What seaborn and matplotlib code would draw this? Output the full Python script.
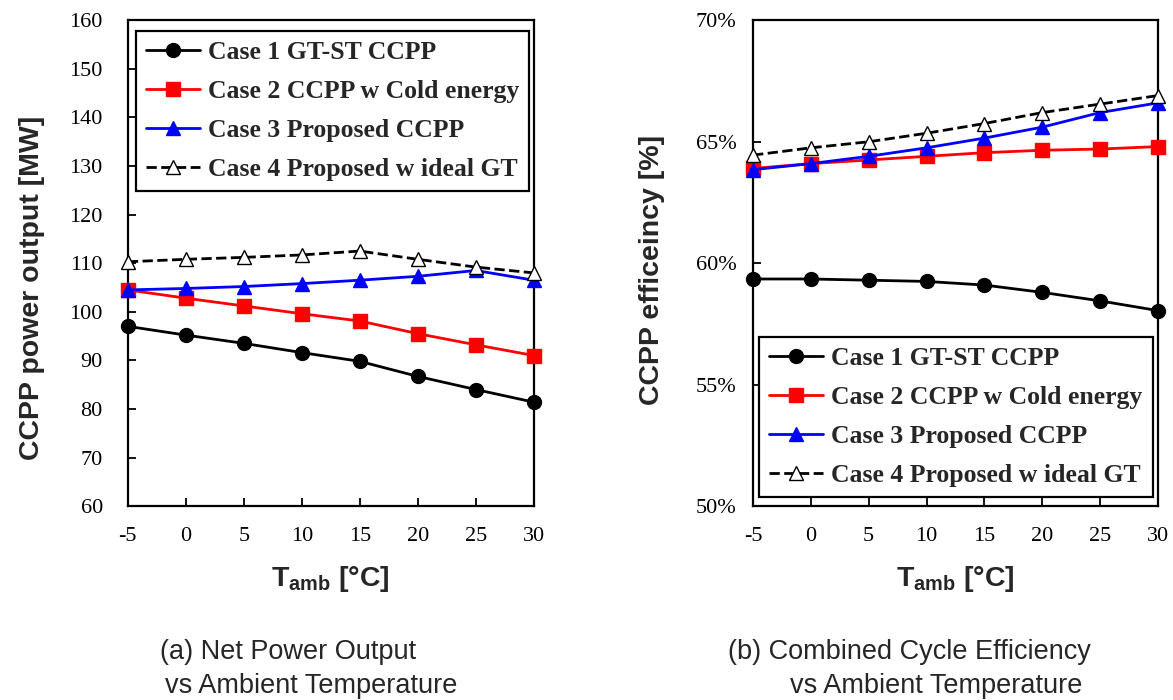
import matplotlib
matplotlib.use("Agg")
import matplotlib.pyplot as plt
import matplotlib.ticker as mticker
import seaborn as sns

# ─── data ────────────────────────────────────────────────────────────────────
temps = [-5, 0, 5, 10, 15, 20, 25, 30]
case_labels = ["Case 1 GT-ST CCPP", "Case 2 CCPP w Cold energy",
               "Case 3 Proposed CCPP", "Case 4 Proposed w ideal GT"]

power_case1 = [97.0, 95.2, 93.5, 91.6, 89.8, 86.7, 84.0, 81.4]
power_case2 = [104.5, 102.8, 101.2, 99.6, 98.1, 95.5, 93.2, 91.0]
power_case3 = [104.5, 104.8, 105.2, 105.8, 106.5, 107.3, 108.5, 106.5]
power_case4 = [110.3, 110.8, 111.2, 111.7, 112.5, 110.8, 109.2, 108.0]

eff_case1 = [59.35, 59.35, 59.3, 59.25, 59.1, 58.8, 58.45, 58.05]
eff_case2 = [63.9, 64.1, 64.25, 64.4, 64.55, 64.65, 64.7, 64.8]
eff_case3 = [63.85, 64.1, 64.4, 64.75, 65.15, 65.6, 66.2, 66.6]
eff_case4 = [64.45, 64.75, 65.0, 65.35, 65.75, 66.2, 66.55, 66.9]

# ─── style ───────────────────────────────────────────────────────────────────
sns.set_theme(style="ticks")
SERIF = ["Liberation Serif", "DejaVu Serif"]
SANS = ["Liberation Sans", "DejaVu Sans"]
plt.rcParams["font.family"] = SERIF
plt.rcParams["axes.unicode_minus"] = False
plt.rcParams["mathtext.fontset"] = "custom"
plt.rcParams["mathtext.rm"] = "Liberation Sans:bold"
plt.rcParams["mathtext.bf"] = "Liberation Sans:bold"

styles = [
    dict(color="black", marker="o", linestyle="-", markerfacecolor="black", markeredgecolor="black"),
    dict(color="#ff0000", marker="s", linestyle="-", markerfacecolor="#ff0000", markeredgecolor="#ff0000"),
    dict(color="#0000ff", marker="^", linestyle="-", markerfacecolor="#0000ff", markeredgecolor="#0000ff"),
    dict(color="black", marker="^", linestyle="--", markerfacecolor="white", markeredgecolor="black"),
]

fig = plt.figure(figsize=(11.73, 7.0), dpi=100)
ax1 = fig.add_axes([0.109, 0.277, 0.346, 0.694])
ax2 = fig.add_axes([0.642, 0.277, 0.345, 0.694])


def draw(ax, series, ypad):
    for vals, lab, st in zip(series, case_labels, styles):
        sns.lineplot(x=temps, y=vals, ax=ax, label=lab, markersize=10,
                     linewidth=2, markeredgewidth=1, clip_on=False, zorder=3, **st)
    ax.set_xlim(-5, 30)
    ax.set_xticks(temps)
    for sp in ax.spines.values():
        sp.set_linewidth(1.6)
        sp.set_color("black")
    ax.tick_params(direction="in", length=6, width=1.3, labelsize=16, colors="black")
    ax.tick_params(axis="x", pad=15)
    ax.tick_params(axis="y", pad=ypad)
    for t in ax.get_xticklabels() + ax.get_yticklabels():
        t.set_family(SERIF)
    ax.set_xlabel(r"$\mathbf{T_{amb}}$ [°C]", fontsize=20.5, fontweight="bold",
                  family=SANS, labelpad=13)


def add_legend(ax, loc, anchor):
    leg = ax.legend(loc=loc, bbox_to_anchor=anchor, fancybox=False,
                    edgecolor="black", framealpha=1, handlelength=2.1,
                    handletextpad=0.3, borderpad=0.4, labelspacing=0.62,
                    borderaxespad=0,
                    prop=dict(family=SERIF, weight="bold", size=18.5))
    leg.get_frame().set_linewidth(1.6)


# ── (a) net power ────────────────────────────────────────────────────────────
draw(ax1, [power_case1, power_case2, power_case3, power_case4], ypad=18)
ax1.set_ylim(60, 160)
ax1.set_yticks(range(60, 161, 10))
ax1.set_ylabel("CCPP power output [MW]", fontsize=20.5, fontweight="bold", family=SANS)
ax1.yaxis.set_label_coords(-0.204, 0.45)
add_legend(ax1, "upper left", (0.02, 0.979))

# ── (b) efficiency ───────────────────────────────────────────────────────────
draw(ax2, [eff_case1, eff_case2, eff_case3, eff_case4], ypad=12)
ax2.set_ylim(50, 70)
ax2.set_yticks(range(50, 71, 5))
ax2.yaxis.set_major_formatter(mticker.FuncFormatter(lambda v, p: f"{v:.0f}%"))
ax2.set_ylabel("CCPP efficeincy [%]", fontsize=20.5, fontweight="bold", family=SANS)
ax2.yaxis.set_label_coords(-0.217, 0.486)
add_legend(ax2, "lower left", (0.015, 0.0185))
for t in ax2.get_yticklabels():
    t.set_family(SERIF)

# ── captions ─────────────────────────────────────────────────────────────────
cap = dict(fontsize=19.5, family=SANS, va="center", ha="left")
fig.text(160 / 1173, 1 - 652 / 700, "(a) Net Power Output", **cap)
fig.text(165 / 1173, 1 - 686 / 700, "vs Ambient Temperature", **cap)
fig.text(728 / 1173, 1 - 652 / 700, "(b) Combined Cycle Efficiency", **cap)
fig.text(790 / 1173, 1 - 686 / 700, "vs Ambient Temperature", **cap)

fig.savefig("out.png", dpi=100)
